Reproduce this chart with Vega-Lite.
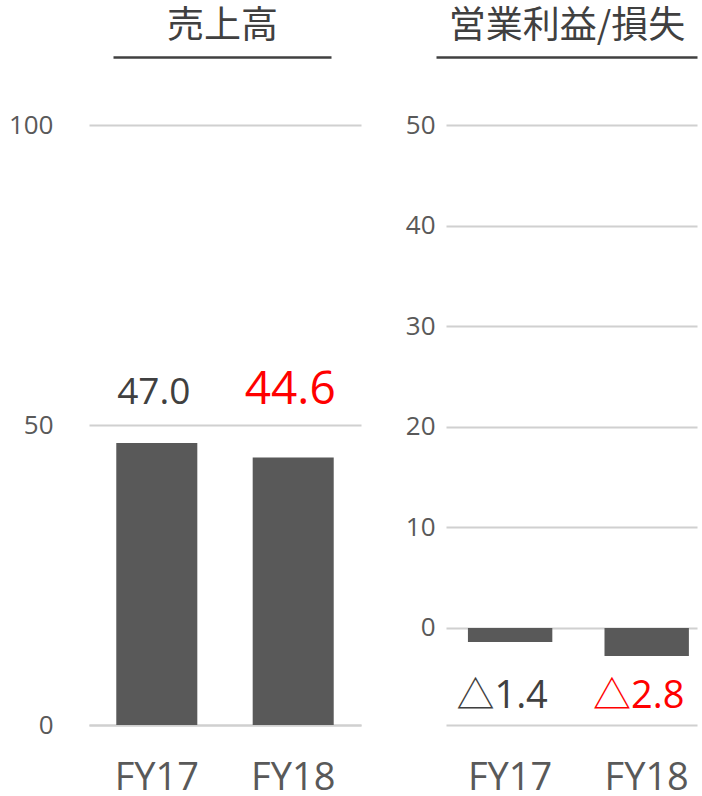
{
  "$schema": "https://vega.github.io/schema/vega-lite/v6.json",
  "padding": {"left": 8, "top": 7, "right": 0, "bottom": 0},
  "background": "white",
  "config": {
    "font": "Open Sans, Noto Sans CJK JP",
    "view": {"stroke": null},
    "concat": {"spacing": 44}
  },
  "datasets": {
    "sales": [
      {"year": "FY17", "value": 47.0, "label": "47.0"},
      {"year": "FY18", "value": 44.6, "label": "44.6"}
    ],
    "op": [
      {"year": "FY17", "value": -1.4, "label": "△1.4"},
      {"year": "FY18", "value": -2.8, "label": "△2.8"}
    ]
  },
  "hconcat": [
    {
      "width": 272,
      "height": 600,
      "layer": [
        {
          "data": {"name": "sales"},
          "layer": [
            {
              "mark": {"type": "bar", "color": "#595959"},
              "encoding": {
                "x": {
                  "field": "year", "type": "nominal", "sort": null,
                  "scale": {"paddingInner": 0.406, "paddingOuter": 0.2},
                  "axis": {"title": null, "orient": "bottom", "labelAngle": 0, "ticks": false, "domain": true, "domainColor": "#d0d0d0", "domainWidth": 2, "labelFontSize": 38, "labelColor": "#595959", "labelPadding": 34}
                },
                "y": {
                  "field": "value", "type": "quantitative",
                  "scale": {"domain": [0, 100], "nice": false},
                  "axis": {"title": null, "values": [0, 50, 100], "grid": true, "gridColor": "#d0d0d0", "gridWidth": 2, "domain": false, "ticks": false, "labelFontSize": 26, "labelColor": "#595959", "labelPadding": 36}
                }
              }
            },
            {
              "mark": {"type": "text", "baseline": "alphabetic", "align": "center", "dx": -3},
              "encoding": {
                "x": {"field": "year", "type": "nominal", "sort": null},
                "y": {"datum": 53.5},
                "text": {"field": "label"},
                "color": {"condition": {"test": "datum.year === 'FY18'", "value": "#ff0000"}, "value": "#404040"},
                "size": {"condition": {"test": "datum.year === 'FY18'", "value": 46}, "value": 37}
              }
            }
          ]
        },
        {
          "mark": {"type": "point", "opacity": 0},
          "encoding": {
            "x": {
              "datum": 0, "type": "quantitative",
              "scale": {"domain": [0, 1], "range": [24, 242]},
              "axis": {"orient": "top", "title": "売上高", "titleFont": "Noto Sans CJK JP", "titleFontSize": 37, "titleFontWeight": "normal", "titleColor": "#404040", "titlePadding": 12, "labels": false, "ticks": false, "grid": false, "domain": true, "domainColor": "#404040", "domainWidth": 2.5, "offset": 68}
            }
          }
        }
      ],
      "resolve": {"scale": {"x": "independent"}, "axis": {"x": "independent"}}
    },
    {
      "width": 251,
      "height": 600,
      "layer": [
        {
          "data": {"name": "op"},
          "layer": [
            {
              "mark": {"type": "bar", "color": "#595959"},
              "encoding": {
                "x": {
                  "field": "year", "type": "nominal", "sort": null,
                  "scale": {"paddingInner": 0.382, "paddingOuter": 0.11, "align": 0.73},
                  "axis": {"title": null, "orient": "bottom", "labelAngle": 0, "ticks": false, "domain": true, "domainColor": "#d0d0d0", "domainWidth": 2, "labelFontSize": 38, "labelColor": "#595959", "labelPadding": 34}
                },
                "y": {
                  "field": "value", "type": "quantitative",
                  "scale": {"domain": [-9.65, 50], "nice": false, "zero": false},
                  "axis": {"title": null, "values": [0, 10, 20, 30, 40, 50], "grid": true, "gridColor": "#d0d0d0", "gridWidth": 2, "domain": false, "ticks": false, "labelFontSize": 26, "labelColor": "#595959", "labelPadding": 11}
                }
              }
            },
            {
              "mark": {"type": "text", "baseline": "alphabetic", "align": "center", "dx": -8},
              "encoding": {
                "x": {"field": "year", "type": "nominal", "sort": null},
                "y": {"datum": -8},
                "text": {"field": "label"},
                "color": {"condition": {"test": "datum.year === 'FY18'", "value": "#ff0000"}, "value": "#404040"},
                "size": {"value": 38}
              }
            }
          ]
        },
        {
          "mark": {"type": "point", "opacity": 0},
          "encoding": {
            "x": {
              "datum": 0, "type": "quantitative",
              "scale": {"domain": [0, 1], "range": [-10, 251]},
              "axis": {"orient": "top", "title": "営業利益/損失", "titleFont": "Noto Sans CJK JP", "titleFontSize": 37, "titleFontWeight": "normal", "titleColor": "#404040", "titlePadding": 12, "labels": false, "ticks": false, "grid": false, "domain": true, "domainColor": "#404040", "domainWidth": 2.5, "offset": 68}
            }
          }
        }
      ],
      "resolve": {"scale": {"x": "independent"}, "axis": {"x": "independent"}}
    }
  ]
}
